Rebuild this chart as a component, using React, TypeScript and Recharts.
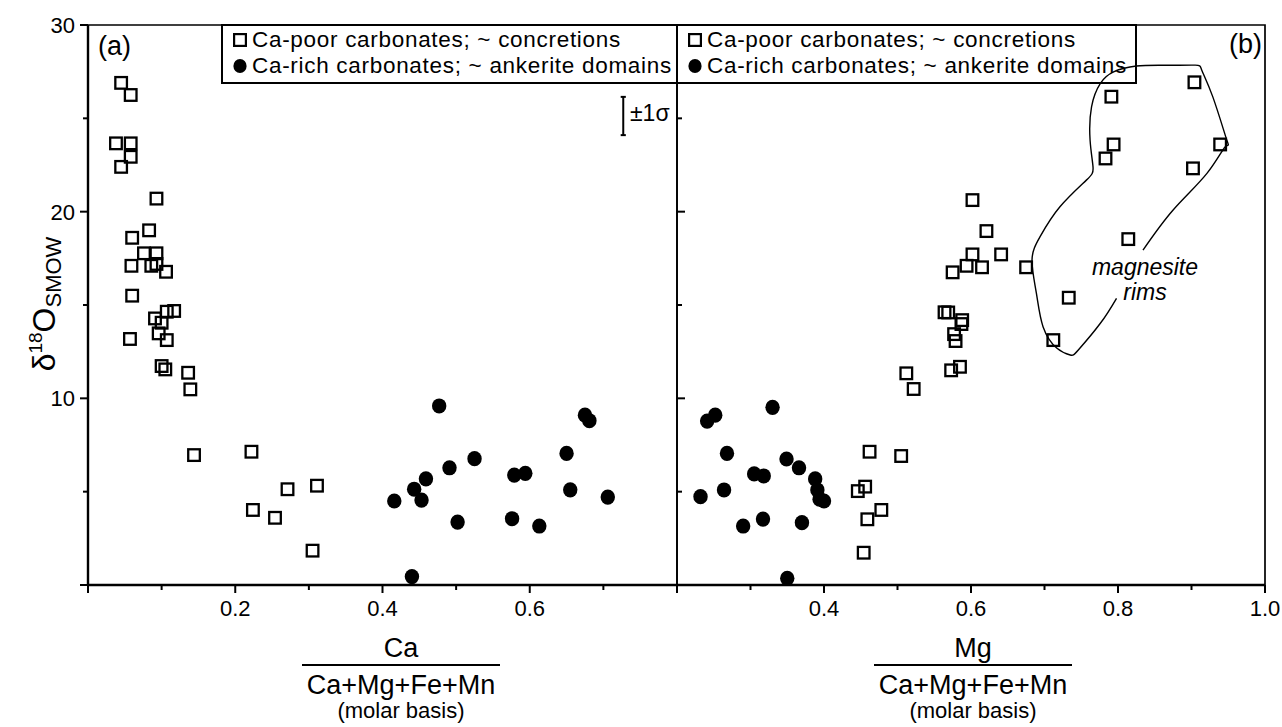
import { ScatterChart, Scatter, XAxis, YAxis, ReferenceArea, ReferenceLine, Legend } from 'recharts'

const FONT = '"Liberation Sans", Arial, Helvetica, sans-serif'
const INK = '#000'

// d18O (SMOW) against Ca / (Ca+Mg+Fe+Mn), panel (a)
const caPoorCa = [
  { x: 0.045, y: 26.9 }, { x: 0.058, y: 26.25 }, { x: 0.038, y: 23.66 }, { x: 0.058, y: 23.66 },
  { x: 0.058, y: 22.94 }, { x: 0.045, y: 22.4 }, { x: 0.093, y: 20.7 }, { x: 0.083, y: 19.0 },
  { x: 0.06, y: 18.6 }, { x: 0.076, y: 17.77 }, { x: 0.093, y: 17.77 }, { x: 0.059, y: 17.1 },
  { x: 0.086, y: 17.1 }, { x: 0.093, y: 17.2 }, { x: 0.106, y: 16.78 }, { x: 0.06, y: 15.5 },
  { x: 0.117, y: 14.68 }, { x: 0.107, y: 14.64 }, { x: 0.091, y: 14.28 }, { x: 0.1, y: 14.05 },
  { x: 0.096, y: 13.48 }, { x: 0.107, y: 13.12 }, { x: 0.057, y: 13.18 }, { x: 0.1, y: 11.73 },
  { x: 0.105, y: 11.55 }, { x: 0.136, y: 11.37 }, { x: 0.139, y: 10.48 }, { x: 0.144, y: 6.96 },
  { x: 0.222, y: 7.14 }, { x: 0.271, y: 5.13 }, { x: 0.311, y: 5.32 }, { x: 0.224, y: 4.02 },
  { x: 0.254, y: 3.6 }, { x: 0.305, y: 1.84 },
]
const caRichCa = [
  { x: 0.477, y: 9.59 }, { x: 0.675, y: 9.1 }, { x: 0.681, y: 8.8 }, { x: 0.65, y: 7.05 },
  { x: 0.525, y: 6.77 }, { x: 0.491, y: 6.28 }, { x: 0.579, y: 5.89 }, { x: 0.594, y: 5.98 },
  { x: 0.459, y: 5.69 }, { x: 0.443, y: 5.13 }, { x: 0.453, y: 4.55 }, { x: 0.416, y: 4.5 },
  { x: 0.655, y: 5.1 }, { x: 0.706, y: 4.71 }, { x: 0.502, y: 3.37 }, { x: 0.576, y: 3.55 },
  { x: 0.613, y: 3.16 }, { x: 0.44, y: 0.45 },
]

// same samples against Mg / (Ca+Mg+Fe+Mn), panel (b)
const caPoorMg = [
  { x: 0.904, y: 26.93 }, { x: 0.791, y: 26.16 }, { x: 0.794, y: 23.6 }, { x: 0.939, y: 23.6 },
  { x: 0.783, y: 22.85 }, { x: 0.902, y: 22.32 }, { x: 0.602, y: 20.62 }, { x: 0.621, y: 18.96 },
  { x: 0.814, y: 18.53 }, { x: 0.602, y: 17.71 }, { x: 0.641, y: 17.71 }, { x: 0.594, y: 17.1 },
  { x: 0.615, y: 17.02 }, { x: 0.675, y: 17.02 }, { x: 0.575, y: 16.75 }, { x: 0.733, y: 15.39 },
  { x: 0.564, y: 14.61 }, { x: 0.569, y: 14.6 }, { x: 0.588, y: 14.19 }, { x: 0.587, y: 13.98 },
  { x: 0.577, y: 13.44 }, { x: 0.712, y: 13.12 }, { x: 0.579, y: 13.07 }, { x: 0.585, y: 11.69 },
  { x: 0.573, y: 11.5 }, { x: 0.512, y: 11.34 }, { x: 0.522, y: 10.5 }, { x: 0.462, y: 7.14 },
  { x: 0.505, y: 6.91 }, { x: 0.456, y: 5.27 }, { x: 0.446, y: 5.03 }, { x: 0.478, y: 4.02 },
  { x: 0.459, y: 3.52 }, { x: 0.454, y: 1.73 },
]
const caRichMg = [
  { x: 0.241, y: 8.78 }, { x: 0.252, y: 9.1 }, { x: 0.33, y: 9.52 }, { x: 0.268, y: 7.05 },
  { x: 0.349, y: 6.75 }, { x: 0.366, y: 6.28 }, { x: 0.305, y: 5.95 }, { x: 0.318, y: 5.84 },
  { x: 0.388, y: 5.68 }, { x: 0.391, y: 5.09 }, { x: 0.394, y: 4.6 }, { x: 0.4, y: 4.5 },
  { x: 0.264, y: 5.09 }, { x: 0.232, y: 4.73 }, { x: 0.317, y: 3.53 }, { x: 0.29, y: 3.16 },
  { x: 0.37, y: 3.34 }, { x: 0.35, y: 0.36 },
]

// hand-drawn outline round the magnesite rims (open at the label)
const magnesiteOutline = [
  { x: 0.798, y: 15.36 }, { x: 0.776, y: 14.02 }, { x: 0.746, y: 12.59 }, { x: 0.735, y: 12.32 },
  { x: 0.717, y: 12.68 }, { x: 0.698, y: 13.84 }, { x: 0.689, y: 15.62 }, { x: 0.683, y: 17.41 },
  { x: 0.694, y: 18.66 }, { x: 0.721, y: 20.26 }, { x: 0.757, y: 21.69 }, { x: 0.766, y: 22.4 },
  { x: 0.762, y: 23.84 }, { x: 0.764, y: 25.62 }, { x: 0.776, y: 26.87 }, { x: 0.794, y: 27.49 },
  { x: 0.825, y: 27.8 }, { x: 0.865, y: 27.84 }, { x: 0.905, y: 27.85 }, { x: 0.914, y: 27.58 },
  { x: 0.929, y: 26.15 }, { x: 0.948, y: 23.84 }, { x: 0.946, y: 23.48 }, { x: 0.921, y: 22.05 },
  { x: 0.875, y: 20.09 }, { x: 0.834, y: 17.94 },
]

const yTicks = [0, 5, 10, 15, 20, 25, 30]
const yLabels = [10, 20, 30]
const caTicks = [0, 0.1, 0.2, 0.3, 0.4, 0.5, 0.6, 0.7, 0.8]
const caLabels = [0.2, 0.4, 0.6]
const mgTicks = [0.2, 0.3, 0.4, 0.5, 0.6, 0.7, 0.8, 0.9, 1.0]
const mgLabels = [0.4, 0.6, 0.8, 1.0]
const sigma = { x: 0.727, low: 24.1, high: 26.15, cap: 0.0035 }

const LEGEND_POOR = 'Ca-poor carbonates; ~ concretions'
const LEGEND_RICH = 'Ca-rich carbonates; ~ ankerite domains'

const HEIGHT = 727
const PLOT_TOP = 25
const PLOT_BOTTOM = 585
const LEFT_PLOT_X = 88
const RIGHT_PLOT_X = 10 // inside the right chart, which starts at page x 667

const near = (a: number, b: number) => Math.abs(a - b) < 1e-6
const onStep = (v: number, step: number) => near(v / step, Math.round(v / step))

function BottomTick({ payload, labels }: any) {
  const x = payload.coordinate
  const len = onStep(payload.value, 0.2) ? 8 : 5
  return (
    <g>
      <line x1={x} x2={x} y1={PLOT_BOTTOM} y2={PLOT_BOTTOM + len} stroke={INK} strokeWidth={2} />
      {labels.some((l: number) => near(l, payload.value)) && (
        <text x={x} y={PLOT_BOTTOM + 31} textAnchor="middle" fontSize={22} fontFamily={FONT} fill={INK}>
          {payload.value.toFixed(1)}
        </text>
      )}
    </g>
  )
}

function LeftTick({ payload }: any) {
  const y = payload.coordinate
  const len = onStep(payload.value, 10) ? 8 : 5
  return (
    <g>
      <line x1={LEFT_PLOT_X} x2={LEFT_PLOT_X - len} y1={y} y2={y} stroke={INK} strokeWidth={2} />
      {yLabels.includes(payload.value) && (
        <text x={LEFT_PLOT_X - 13} y={y + 8} textAnchor="end" fontSize={22} fontFamily={FONT} fill={INK}>
          {payload.value}
        </text>
      )}
    </g>
  )
}

function InnerTick({ payload }: any) {
  if (payload.value === 0 || payload.value === 30) return <g />
  const y = payload.coordinate
  const len = onStep(payload.value, 10) ? 8 : 5
  return <line x1={RIGHT_PLOT_X} x2={RIGHT_PLOT_X + len} y1={y} y2={y} stroke={INK} strokeWidth={2} />
}

const OpenSquare = (props: any) => (
  <rect x={props.cx - 5.8} y={props.cy - 5.8} width={11.6} height={11.6} fill="none" stroke={INK} strokeWidth={2.3} />
)
const FilledDot = (props: any) => <ellipse cx={props.cx} cy={props.cy} rx={7.2} ry={7.6} fill={INK} />
const NoMark = () => <g />

function BoxLegend({ payload }: any) {
  const items = (payload ?? []).filter((entry: any) => entry.type === 'square' || entry.type === 'circle')
  return (
    <div
      style={{
        border: `2px solid ${INK}`,
        boxSizing: 'border-box',
        width: '100%',
        height: '100%',
        padding: '1px 0 0 10px',
        fontFamily: FONT,
        fontSize: 22.5,
        letterSpacing: '0.7px',
        lineHeight: '26px',
        color: INK,
        whiteSpace: 'nowrap',
      }}
    >
      {items.map((entry: any) => (
        <div key={entry.value + entry.type} style={{ display: 'flex', alignItems: 'center', height: 26 }}>
          <svg width={14} height={14} style={{ marginRight: 5, flex: 'none' }}>
            {entry.type === 'square' ? (
              <rect x={1.1} y={1.1} width={11.8} height={11.8} fill="none" stroke={INK} strokeWidth={2.2} />
            ) : (
              <ellipse cx={7} cy={7} rx={6.6} ry={7} fill={INK} />
            )}
          </svg>
          <span>{entry.value}</span>
        </div>
      ))}
    </div>
  )
}

const fracText = { fontFamily: FONT, fill: INK, textAnchor: 'middle' as const }

function Fraction({ cx, top }: { cx: number; top: string }) {
  return (
    <g>
      <text x={cx} y={657} fontSize={27} {...fracText}>{top}</text>
      <line x1={cx - 99} x2={cx + 99} y1={665} y2={665} stroke={INK} strokeWidth={2} />
      <text x={cx} y={694} fontSize={27} {...fracText}>Ca+Mg+Fe+Mn</text>
      <text x={cx} y={718} fontSize={22} {...fracText}>(molar basis)</text>
    </g>
  )
}

export default function App() {
  return (
    <div style={{ position: 'fixed', left: 0, top: 0, width: 1282, height: HEIGHT, background: '#fff' }}>
      <div style={{ position: 'absolute', left: 0, top: 0 }}>
        <ScatterChart width={690} height={HEIGHT} margin={{ top: PLOT_TOP, right: 13, bottom: 112, left: 0 }}>
          <XAxis
            type="number"
            dataKey="x"
            domain={[0, 0.8]}
            ticks={caTicks}
            interval={0}
            height={30}
            tickLine={false}
            axisLine={{ stroke: INK, strokeWidth: 2.4 }}
            tick={(p: any) => <BottomTick {...p} labels={caLabels} />}
          />
          <YAxis
            type="number"
            dataKey="y"
            domain={[0, 30]}
            ticks={yTicks}
            interval={0}
            width={LEFT_PLOT_X}
            tickLine={false}
            axisLine={{ stroke: INK, strokeWidth: 2.4 }}
            tick={(p: any) => <LeftTick {...p} />}
          />
          <ReferenceArea x1={0} x2={0.8} y1={0} y2={30} fill="none" stroke={INK} strokeWidth={1.7} ifOverflow="visible" />
          <Scatter name={LEGEND_POOR} legendType="square" data={caPoorCa} shape={OpenSquare} isAnimationActive={false} />
          <Scatter name={LEGEND_RICH} legendType="circle" data={caRichCa} shape={FilledDot} isAnimationActive={false} />
          <ReferenceLine segment={[{ x: sigma.x, y: sigma.low }, { x: sigma.x, y: sigma.high }]} stroke={INK} strokeWidth={2} />
          <ReferenceLine segment={[{ x: sigma.x - sigma.cap, y: sigma.low }, { x: sigma.x + sigma.cap, y: sigma.low }]} stroke={INK} strokeWidth={2} />
          <ReferenceLine segment={[{ x: sigma.x - sigma.cap, y: sigma.high }, { x: sigma.x + sigma.cap, y: sigma.high }]} stroke={INK} strokeWidth={2} />
          <Legend
            layout="vertical"
            align="center"
            verticalAlign="middle"
            content={<BoxLegend />}
            wrapperStyle={{ left: 221, top: 24, width: 457, height: 60 }}
          />
          <text x={98} y={55} fontSize={27} fontFamily={FONT} fill={INK}>(a)</text>
          <text x={630} y={121} fontSize={23} fontFamily={FONT} fill={INK}>±1σ</text>
          <text transform="translate(55,304) rotate(-90)" x={0} y={0} textAnchor="middle" fontSize={32} fontFamily={FONT} fill={INK}>
            δ<tspan fontSize={19} dy={-13}>18</tspan>
            <tspan dy={13}>O</tspan>
            <tspan fontSize={22} dy={6}>SMOW</tspan>
          </text>
          <Fraction cx={401} top="Ca" />
        </ScatterChart>
      </div>
      <div style={{ position: 'absolute', left: 667, top: 0 }}>
        <ScatterChart width={615} height={HEIGHT} margin={{ top: PLOT_TOP, right: 17, bottom: 112, left: RIGHT_PLOT_X }}>
          <XAxis
            type="number"
            dataKey="x"
            domain={[0.2, 1.0]}
            ticks={mgTicks}
            interval={0}
            height={30}
            tickLine={false}
            axisLine={{ stroke: INK, strokeWidth: 2.4 }}
            tick={(p: any) => <BottomTick {...p} labels={mgLabels} />}
          />
          <YAxis
            type="number"
            dataKey="y"
            domain={[0, 30]}
            ticks={yTicks}
            interval={0}
            width={10}
            mirror
            tickLine={false}
            axisLine={false}
            tick={(p: any) => <InnerTick {...p} />}
          />
          <ReferenceArea x1={0.2} x2={1.0} y1={0} y2={30} fill="none" stroke={INK} strokeWidth={1.7} ifOverflow="visible" />
          <Scatter name={LEGEND_POOR} legendType="square" data={caPoorMg} shape={OpenSquare} isAnimationActive={false} />
          <Scatter name={LEGEND_RICH} legendType="circle" data={caRichMg} shape={FilledDot} isAnimationActive={false} />
          <Scatter
            name="magnesite rims"
            legendType="none"
            data={magnesiteOutline}
            shape={NoMark}
            line={{ stroke: INK, strokeWidth: 1.4 }}
            lineType="joint"
            lineJointType="natural"
            isAnimationActive={false}
          />
          <Legend
            layout="vertical"
            align="center"
            verticalAlign="middle"
            content={<BoxLegend />}
            wrapperStyle={{ left: 9, top: 24, width: 461, height: 60 }}
          />
          <text x={595} y={53} textAnchor="end" fontSize={27} fontFamily={FONT} fill={INK}>(b)</text>
          <text x={478} y={275} textAnchor="middle" fontSize={23} fontStyle="italic" fontFamily={FONT} fill={INK}>magnesite</text>
          <text x={478} y={300} textAnchor="middle" fontSize={23} fontStyle="italic" fontFamily={FONT} fill={INK}>rims</text>
          <Fraction cx={306} top="Mg" />
        </ScatterChart>
      </div>
    </div>
  )
}
